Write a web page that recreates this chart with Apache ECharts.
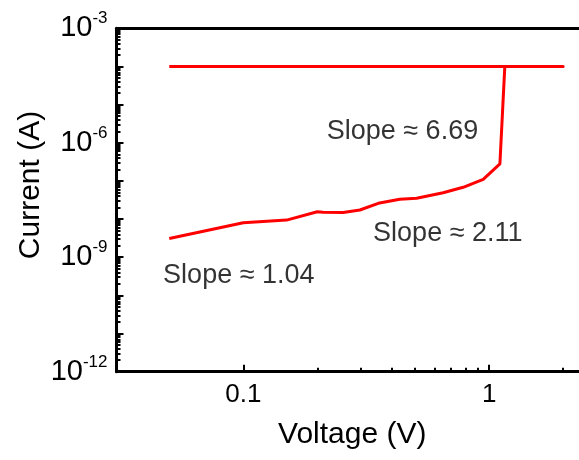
<!DOCTYPE html>
<html>
<head>
<meta charset="utf-8">
<script src="https://cdn.jsdelivr.net/npm/echarts@6/dist/echarts.min.js"></script>
<style>html,body{margin:0;padding:0;background:#fff}#c{width:579px;height:460px}</style>
</head>
<body>
<div id="c"></div>
<script>
// Measured data (Voltage in V, Current in A)
const voltage = [0.05, 0.1, 0.15, 0.2, 0.211, 0.255, 0.298, 0.354, 0.433, 0.507, 0.65, 0.784, 0.946, 1.106, 1.158, 2.0, 0.05];
const current = [3.1e-9, 8.0e-9, 9.4e-9, 1.56e-8, 1.51e-8, 1.48e-8, 1.73e-8, 2.59e-8, 3.29e-8, 3.5e-8, 4.9e-8, 6.8e-8, 1.1e-7, 2.8e-7, 1e-4, 1e-4, 1e-4];

// Axis ranges / ticks (in raw units)
const xMin = 0.0305, xMax = 2.32;
const yMin = 1e-12, yMax = 1e-3;
const xLabelValues = [0.1, 1];
const xMinorTicks = [0.2, 0.3, 0.4, 0.5, 0.6, 0.7, 0.8, 0.9, 2];
const yLabelExponents = [-12, -9, -6, -3];

// Annotations
const annoText = ['Slope \u2248 6.69', 'Slope \u2248 2.11', 'Slope \u2248 1.04'];
const annoV = [0.444, 0.679, 0.0959];
const annoI = [2.0e-6, 4.1e-9, 3.4e-10];

const L = Math.log10;
const FONT = "'Liberation Sans', Arial, sans-serif";

const yMinor = [];
for (let e = -12; e < -3; e++) for (let m = 2; m <= 9; m++) yMinor.push(e + L(m));

const lineData = voltage.map((v, i) => [L(v), L(current[i])]);
const annoData = annoV.map((v, i) => [L(v), L(annoI[i]), annoText[i]]);

const axisLineStyle = { color: '#000', width: 3 };

const chart = echarts.init(document.getElementById('c'), null, { renderer: 'canvas' });
chart.setOption({
  animation: false,
  backgroundColor: '#fff',
  grid: { left: 116.5, right: 0, top: 28.3, bottom: 88.3, containLabel: false },
  xAxis: [
    {
      type: 'value', min: L(xMin), max: L(xMax), position: 'bottom',
      splitLine: { show: false },
      axisLine: { show: true, onZero: false, lineStyle: axisLineStyle },
      axisTick: { show: true, inside: true, length: 7, lineStyle: { color: '#000', width: 2 }, customValues: xLabelValues.map(L) },
      axisLabel: {
        show: true, customValues: xLabelValues.map(L), margin: 10,
        fontFamily: FONT, fontSize: 26, color: '#000',
        formatter: v => String(Math.round(Math.pow(10, v) * 100) / 100)
      },
      name: 'Voltage (V)', nameLocation: 'middle', nameGap: 48, nameMoveOverlap: false,
      nameTextStyle: { fontFamily: FONT, fontSize: 30, color: '#000', padding: [0, 0, 0, 9] }
    },
    {
      type: 'value', min: L(xMin), max: L(xMax), position: 'bottom',
      splitLine: { show: false }, axisLine: { show: false, onZero: false }, axisLabel: { show: false },
      axisTick: { show: true, inside: true, length: 4, lineStyle: { color: '#000', width: 2 }, customValues: xMinorTicks.map(L) }
    },
    {
      type: 'value', min: L(xMin), max: L(xMax), position: 'top',
      splitLine: { show: false }, axisLine: { show: true, onZero: false, lineStyle: axisLineStyle },
      axisLabel: { show: false }, axisTick: { show: false }
    }
  ],
  yAxis: [
    {
      type: 'value', min: L(yMin), max: L(yMax), interval: 1, position: 'left',
      splitLine: { show: false },
      axisLine: { show: true, onZero: false, lineStyle: axisLineStyle },
      axisTick: { show: true, inside: true, length: 7, lineStyle: { color: '#000', width: 2 } },
      axisLabel: {
        show: true, margin: 9, customValues: yLabelExponents,
        formatter: v => '{a|10}{b|' + Math.round(v) + '}',
        rich: {
          a: { fontFamily: FONT, fontSize: 29, color: '#000', lineHeight: 36, verticalAlign: 'middle' },
          b: { fontFamily: FONT, fontSize: 17, color: '#000', lineHeight: 17, verticalAlign: 'top' }
        }
      },
      name: 'Current (A)', nameLocation: 'middle', nameGap: 71, nameRotate: 90, nameMoveOverlap: false,
      nameTextStyle: { fontFamily: FONT, fontSize: 30, color: '#000', padding: [0, 0, 0, 30] }
    },
    {
      type: 'value', min: L(yMin), max: L(yMax), position: 'left',
      splitLine: { show: false }, axisLine: { show: false, onZero: false }, axisLabel: { show: false },
      axisTick: { show: true, inside: true, length: 4, lineStyle: { color: '#000', width: 2 }, customValues: yMinor }
    }
  ],
  series: [
    {
      type: 'line', name: 'I-V', data: lineData, xAxisIndex: 0, yAxisIndex: 0,
      showSymbol: false, symbol: 'none', clip: false,
      lineStyle: { color: '#ff0000', width: 3, join: 'round' }
    },
    {
      type: 'scatter', name: 'annotations', data: annoData, xAxisIndex: 0, yAxisIndex: 0,
      symbolSize: 0, silent: true,
      label: {
        show: true, position: 'inside', formatter: p => p.data[2],
        fontFamily: FONT, fontSize: 27, color: '#000'
      }
    }
  ]
});
</script>
</body>
</html>
